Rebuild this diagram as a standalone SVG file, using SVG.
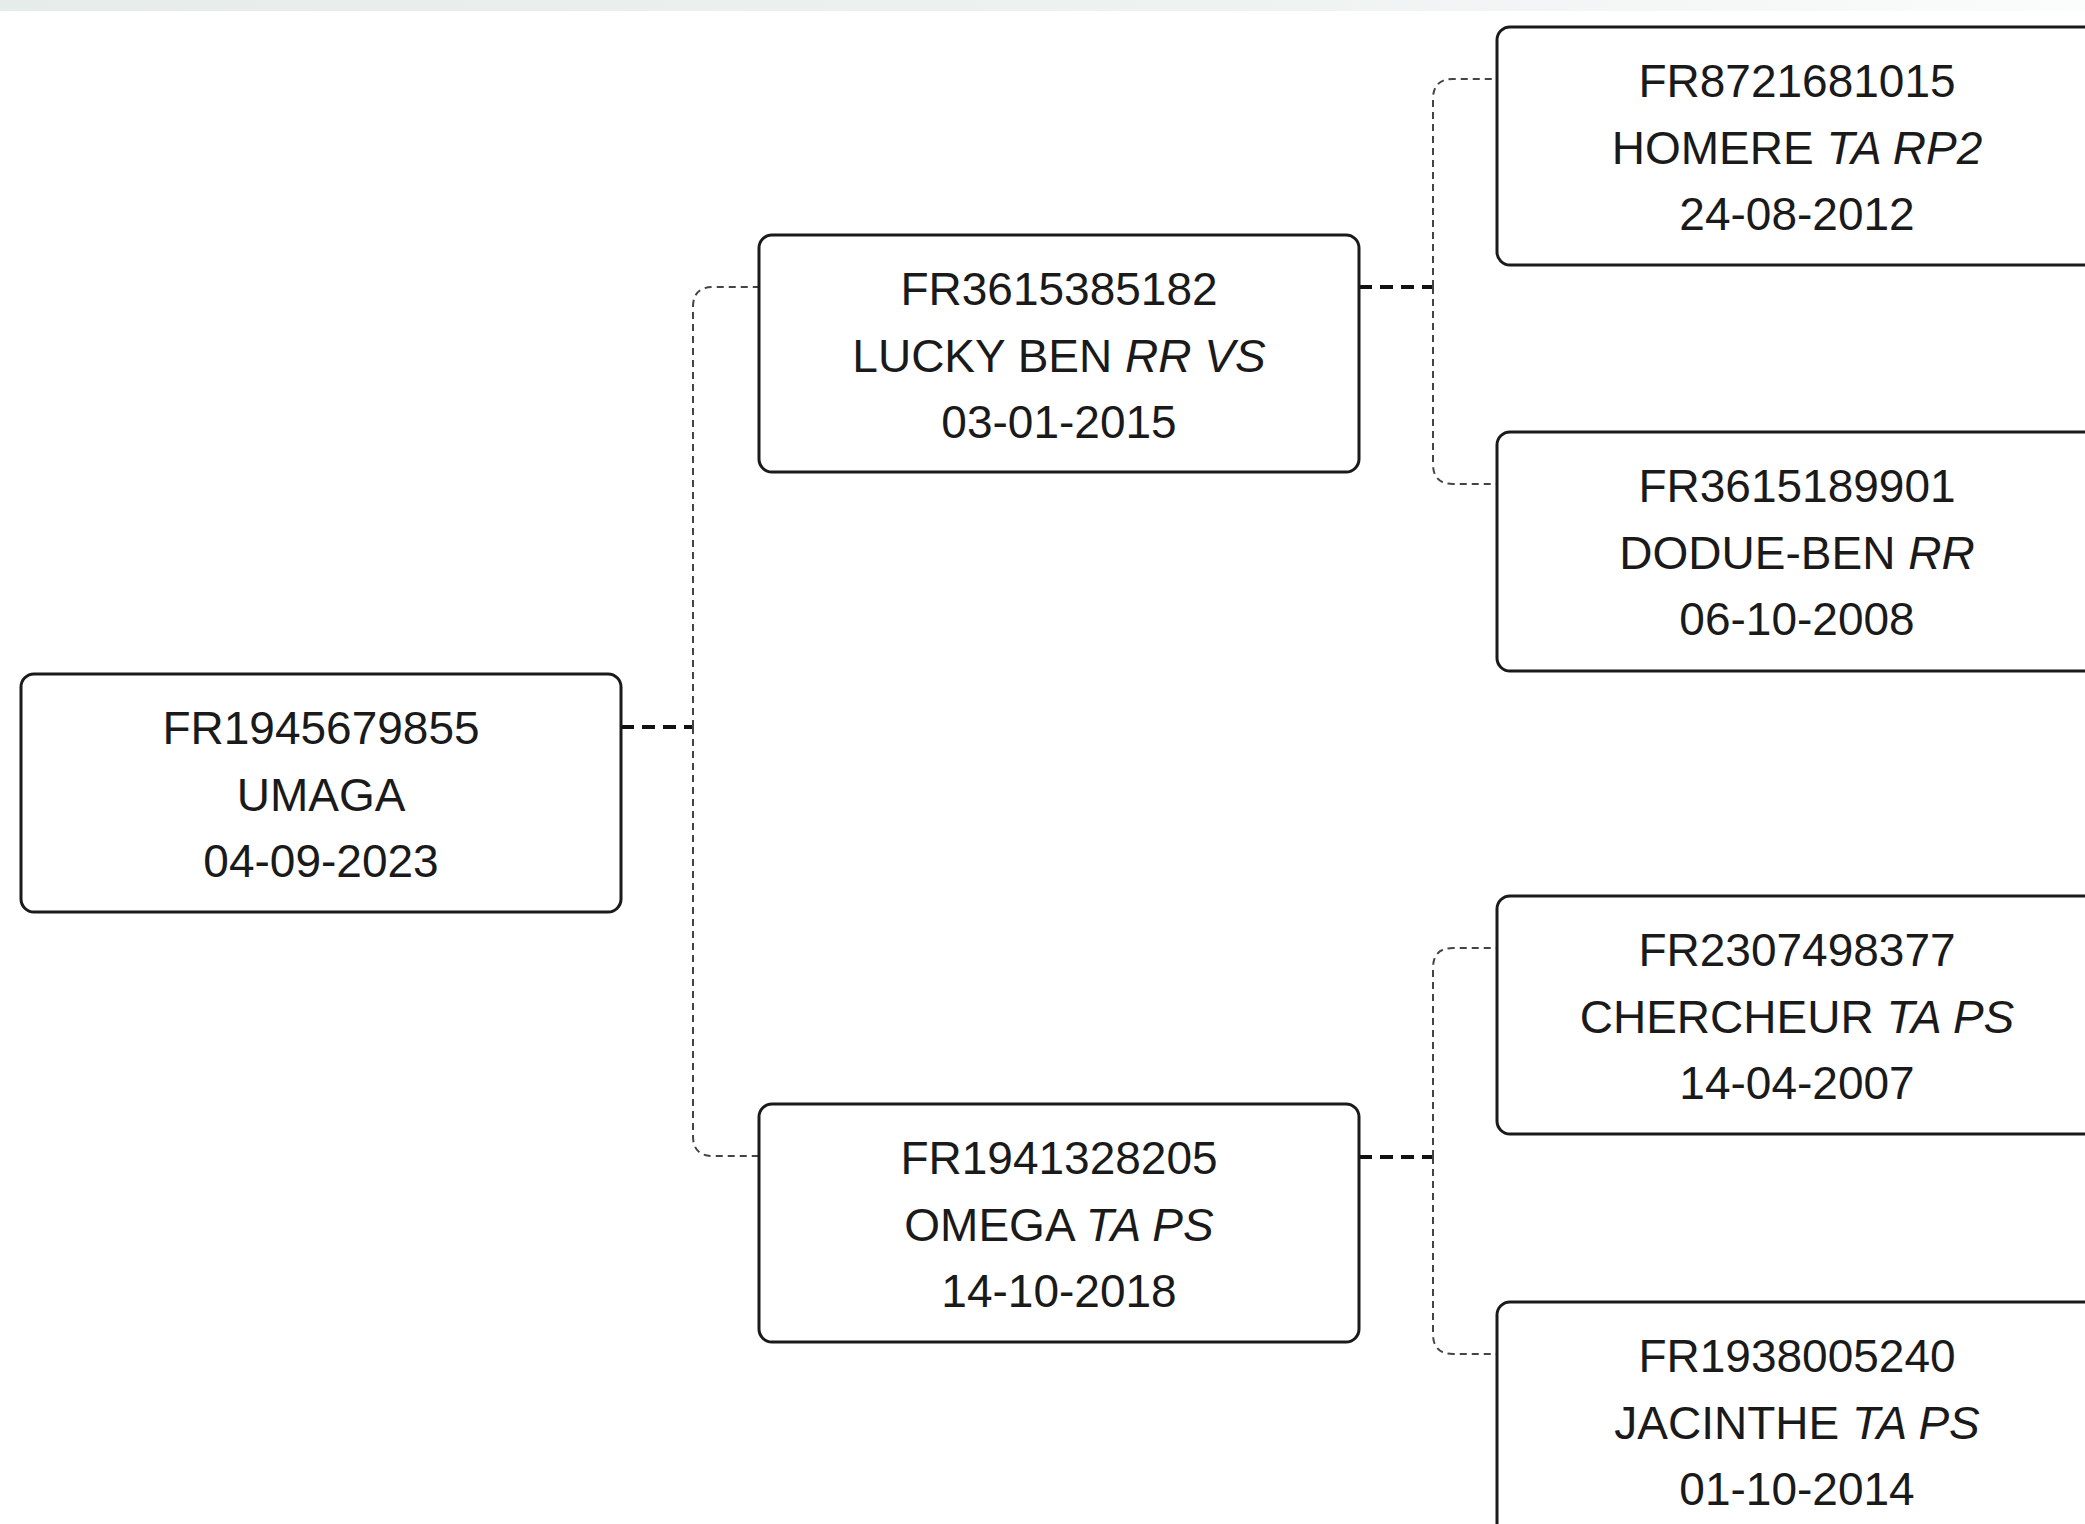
<svg xmlns="http://www.w3.org/2000/svg" width="2085" height="1524" viewBox="0 0 2085 1524">
<defs>
<linearGradient id="band" x1="0" y1="0" x2="1" y2="0">
<stop offset="0" stop-color="#e6ecea"/>
<stop offset="0.6" stop-color="#eef2f1"/>
<stop offset="1" stop-color="#fbfcfc"/>
</linearGradient>
</defs>
<style>
.box{fill:#ffffff;stroke:#1a1a1a;stroke-width:3}
.t{font-family:"Liberation Sans",Arial,sans-serif;font-size:46px;fill:#1a1a1a;text-anchor:middle}
.i{font-style:italic}
.stub{fill:none;stroke:#111;stroke-width:4;stroke-dasharray:13 8}
.link{fill:none;stroke:#444;stroke-width:2;stroke-dasharray:7 5}
</style>
<rect x="0" y="0" width="2085" height="1524" fill="#ffffff"/>
<rect x="0" y="0" width="2085" height="11" fill="url(#band)"/>
<g id="connectors">
<path class="stub" d="M621,727 H693"/>
<path class="link" d="M693,727 V307 Q693,287 713,287 H759"/>
<path class="link" d="M693,727 V1136 Q693,1156 713,1156 H759"/>
<path class="stub" d="M1359,287 H1433"/>
<path class="link" d="M1433,287 V99 Q1433,79 1453,79 H1497"/>
<path class="link" d="M1433,287 V464 Q1433,484 1453,484 H1497"/>
<path class="stub" d="M1359,1157 H1433"/>
<path class="link" d="M1433,1157 V968 Q1433,948 1453,948 H1497"/>
<path class="link" d="M1433,1157 V1334 Q1433,1354 1453,1354 H1497"/>
</g>
<g id="umaga">
<rect class="box" x="21" y="674" width="600" height="238" rx="13"/>
<text class="t" x="321" y="744">FR1945679855</text>
<text class="t" x="321" y="811">UMAGA</text>
<text class="t" x="321" y="877">04-09-2023</text>
</g>
<g id="lucky-ben">
<rect class="box" x="759" y="235" width="600" height="237" rx="13"/>
<text class="t" x="1059" y="305">FR3615385182</text>
<text class="t" x="1059" y="372">LUCKY BEN <tspan class="i">RR VS</tspan></text>
<text class="t" x="1059" y="438">03-01-2015</text>
</g>
<g id="omega">
<rect class="box" x="759" y="1104" width="600" height="238" rx="13"/>
<text class="t" x="1059" y="1174">FR1941328205</text>
<text class="t" x="1059" y="1241">OMEGA <tspan class="i">TA PS</tspan></text>
<text class="t" x="1059" y="1307">14-10-2018</text>
</g>
<g id="homere">
<rect class="box" x="1497" y="27" width="620" height="238" rx="13"/>
<text class="t" x="1797" y="97">FR8721681015</text>
<text class="t" x="1797" y="164">HOMERE <tspan class="i">TA RP2</tspan></text>
<text class="t" x="1797" y="230">24-08-2012</text>
</g>
<g id="dodue-ben">
<rect class="box" x="1497" y="432" width="620" height="239" rx="13"/>
<text class="t" x="1797" y="502">FR3615189901</text>
<text class="t" x="1797" y="569">DODUE-BEN <tspan class="i">RR</tspan></text>
<text class="t" x="1797" y="635">06-10-2008</text>
</g>
<g id="chercheur">
<rect class="box" x="1497" y="896" width="620" height="238" rx="13"/>
<text class="t" x="1797" y="966">FR2307498377</text>
<text class="t" x="1797" y="1033">CHERCHEUR <tspan class="i">TA PS</tspan></text>
<text class="t" x="1797" y="1099">14-04-2007</text>
</g>
<g id="jacinthe">
<rect class="box" x="1497" y="1302" width="620" height="260" rx="13"/>
<text class="t" x="1797" y="1372">FR1938005240</text>
<text class="t" x="1797" y="1439">JACINTHE <tspan class="i">TA PS</tspan></text>
<text class="t" x="1797" y="1505">01-10-2014</text>
</g>
</svg>
